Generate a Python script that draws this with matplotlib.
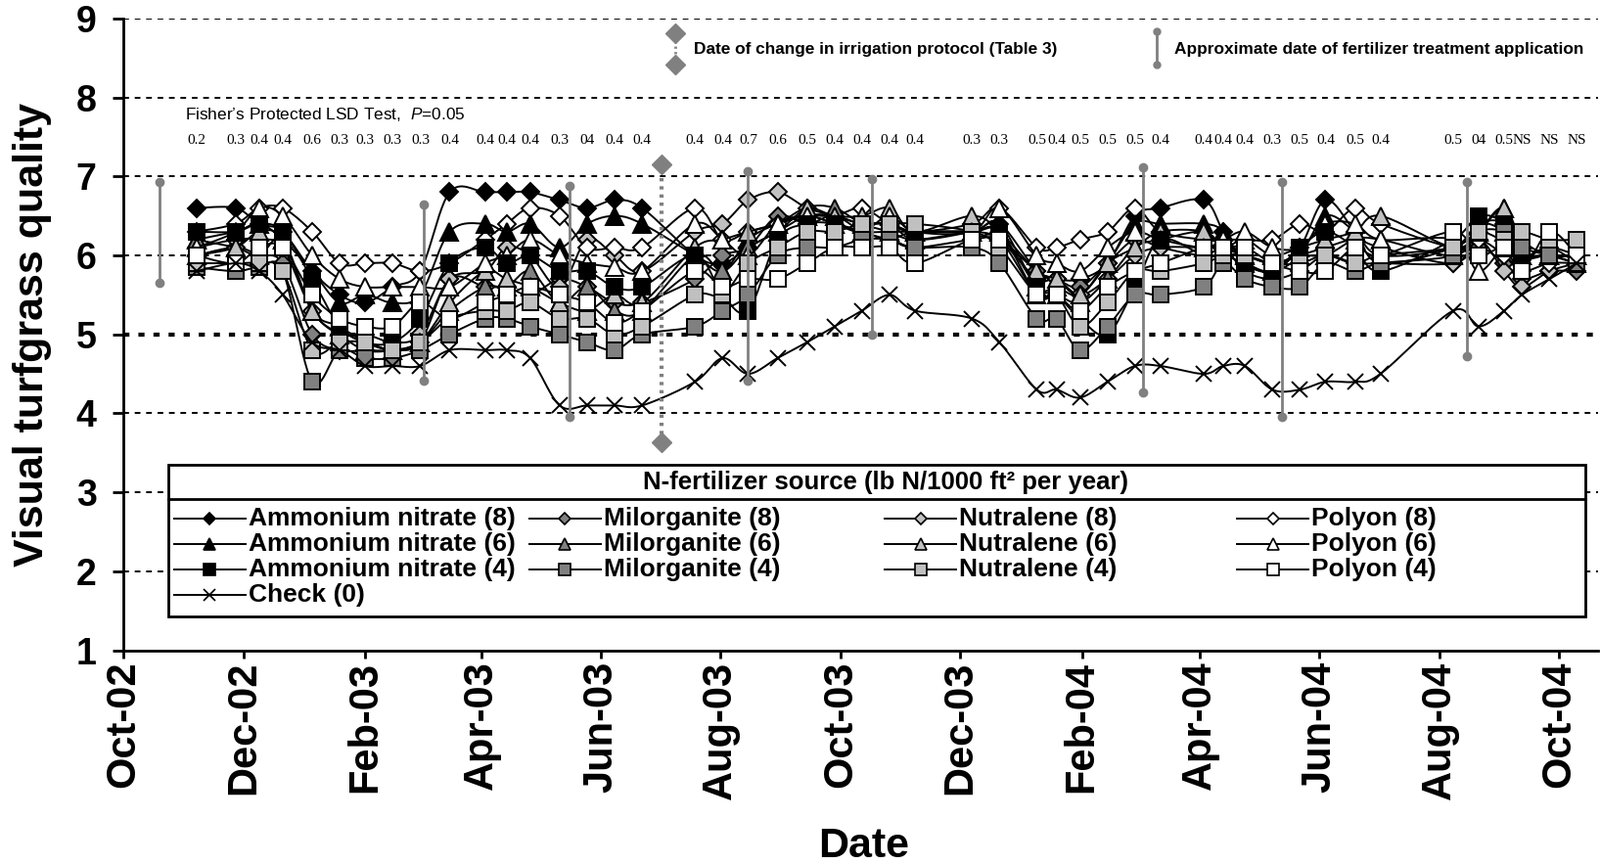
import matplotlib
matplotlib.use('Agg')
import matplotlib.pyplot as plt
import matplotlib.dates as mdates
import numpy as np
import pandas as pd
from matplotlib import font_manager
from matplotlib.patches import Rectangle

plt.rcParams['font.family'] = ['Liberation Sans', 'DejaVu Sans']
plt.rcParams['mathtext.fontset'] = 'custom'
plt.rcParams['mathtext.rm'] = 'Liberation Sans'
plt.rcParams['mathtext.it'] = 'Liberation Sans:italic'

installed = {f.name for f in font_manager.fontManager.ttflist}
HAS_NARROW = 'Liberation Sans Narrow' in installed
NARROW = 'Liberation Sans Narrow' if HAS_NARROW else 'Liberation Sans'
NSCALE = 1.0 if HAS_NARROW else 0.89

# sampling dates
sample_dates = pd.to_datetime([
    '2002-11-07', '2002-11-27', '2002-12-09', '2002-12-21', '2003-01-05',
    '2003-01-19', '2003-02-01', '2003-02-15', '2003-03-01', '2003-03-16',
    '2003-04-03', '2003-04-14', '2003-04-26', '2003-05-11', '2003-05-25',
    '2003-06-08', '2003-06-22', '2003-07-19', '2003-08-02', '2003-08-15',
    '2003-08-30', '2003-09-14', '2003-09-28', '2003-10-12', '2003-10-26',
    '2003-11-08', '2003-12-07', '2003-12-21', '2004-01-09', '2004-01-19',
    '2004-01-31', '2004-02-14', '2004-02-28', '2004-03-12', '2004-04-03',
    '2004-04-13', '2004-04-24', '2004-05-08', '2004-05-22', '2004-06-04',
    '2004-06-19', '2004-07-02', '2004-08-08', '2004-08-21', '2004-09-03',
    '2004-09-12', '2004-09-26', '2004-10-10'])

lsd = ['0.2', '0.3', '0.4', '0.4', '0.6', '0.3', '0.3', '0.3', '0.3', '0.4',
       '0.4', '0.4', '0.4', '0.3', '04', '0.4', '0.4', '0.4', '0.4', '0.7',
       '0.6', '0.5', '0.4', '0.4', '0.4', '0.4', '0.3', '0.3', '0.5', '0.4',
       '0.5', '0.5', '0.5', '0.4', '0.4', '0.4', '0.4', '0.3', '0.5', '0.4',
       '0.5', '0.4', '0.5', '04', '0.5', 'NS', 'NS', 'NS']

an8 = [6.6, 6.6, 6.4, 6.3, 5.8, 5.5, 5.4, 5.6, 5.8, 6.8,
       6.8, 6.8, 6.8, 6.7, 6.6, 6.7, 6.6, 6.0, 5.9, 6.1,
       6.3, 6.5, 6.5, 6.4, 6.4, 6.2, 6.3, 6.4, 5.8, 5.7,
       5.7, 5.9, 6.5, 6.6, 6.7, 6.3, 5.9, 5.8, 6.1, 6.7,
       6.3, 5.9, 6.1, 6.4, 6.4, 6.0, 6.1, 6.0]
an6 = [6.2, 6.3, 6.4, 6.2, 5.8, 5.4, 5.5, 5.4, 5.5, 6.3,
       6.4, 6.3, 6.4, 6.1, 6.4, 6.5, 6.4, 6.0, 5.8, 6.2,
       6.4, 6.5, 6.4, 6.3, 6.3, 6.3, 6.3, 6.4, 5.6, 5.6,
       5.5, 5.9, 6.4, 6.4, 6.4, 6.3, 5.9, 5.8, 6.0, 6.5,
       6.3, 6.0, 6.1, 6.4, 6.3, 6.0, 6.0, 6.0]
an4 = [6.3, 6.3, 6.4, 6.3, 5.7, 5.1, 4.9, 4.9, 5.2, 5.9,
       6.1, 5.9, 6.0, 5.8, 5.8, 5.6, 5.6, 6.0, 5.5, 5.3,
       6.2, 6.4, 6.4, 6.3, 6.2, 6.3, 6.3, 6.3, 5.6, 5.5,
       5.2, 5.0, 5.6, 6.2, 6.0, 6.0, 5.9, 5.8, 6.1, 6.3,
       6.1, 5.8, 6.2, 6.5, 6.4, 6.0, 6.1, 5.9]
mil8 = [6.0, 6.1, 6.0, 5.9, 5.0, 4.8, 4.8, 4.8, 4.9, 5.7,
        5.6, 5.6, 5.5, 5.7, 5.6, 5.4, 5.4, 5.7, 6.0, 6.1,
        6.5, 6.4, 6.5, 6.3, 6.2, 6.1, 6.2, 6.2, 5.8, 5.7,
        5.6, 5.9, 6.2, 6.1, 6.0, 6.1, 5.8, 5.7, 5.8, 6.0,
        5.9, 5.9, 5.9, 6.1, 5.9, 5.7, 5.8, 5.8]
mil6 = [6.2, 6.1, 6.0, 6.2, 5.3, 5.0, 4.8, 4.8, 4.9, 5.3,
        5.6, 5.6, 5.8, 5.4, 5.6, 5.3, 5.3, 6.0, 5.8, 6.1,
        6.3, 6.6, 6.6, 6.4, 6.3, 6.2, 6.3, 6.3, 5.5, 5.5,
        5.4, 5.7, 6.1, 6.2, 6.3, 6.1, 6.0, 5.9, 6.0, 6.0,
        6.2, 6.2, 6.0, 6.3, 6.6, 6.0, 6.0, 5.9]
mil4 = [5.85, 5.8, 5.85, 5.8, 4.4, 4.8, 4.7, 4.7, 4.8, 5.0,
        5.2, 5.2, 5.1, 5.0, 4.9, 4.8, 5.0, 5.1, 5.3, 5.5,
        6.0, 6.1, 6.1, 6.2, 6.2, 6.1, 6.1, 5.9, 5.2, 5.2,
        4.8, 5.1, 5.5, 5.5, 5.6, 5.9, 5.7, 5.6, 5.6, 5.9,
        5.8, 5.9, 6.0, 6.3, 6.3, 6.1, 6.0, 5.9]
nut8 = [6.1, 6.2, 6.2, 6.1, 5.3, 5.0, 5.0, 4.9, 5.0, 5.7,
        5.8, 6.1, 6.0, 5.6, 6.2, 6.0, 5.8, 6.3, 6.4, 6.7,
        6.8, 6.6, 6.5, 6.4, 6.4, 6.3, 6.3, 6.2, 5.7, 5.7,
        5.5, 5.7, 6.0, 6.1, 6.1, 6.1, 6.0, 5.9, 6.0, 6.1,
        6.2, 6.1, 5.9, 6.2, 5.8, 5.6, 5.8, 5.9]
nut6 = [6.0, 6.1, 6.3, 6.2, 5.3, 5.1, 4.9, 4.8, 4.9, 5.4,
        5.8, 5.7, 5.6, 5.4, 5.3, 5.5, 5.4, 6.1, 6.2, 6.3,
        6.4, 6.6, 6.5, 6.5, 6.6, 6.3, 6.5, 6.3, 5.8, 5.7,
        5.5, 5.9, 6.1, 6.3, 6.3, 6.1, 6.2, 6.0, 6.1, 6.2,
        6.3, 6.5, 6.1, 6.3, 6.6, 6.2, 6.0, 6.0]
nut4 = [5.9, 5.9, 5.9, 5.8, 4.8, 4.9, 4.9, 4.8, 4.9, 5.2,
        5.3, 5.3, 5.4, 5.2, 5.2, 5.0, 5.1, 5.5, 5.5, 5.9,
        6.1, 6.3, 6.3, 6.4, 6.4, 6.4, 6.3, 6.1, 5.5, 5.5,
        5.1, 5.4, 5.8, 5.8, 5.9, 6.0, 6.0, 5.9, 5.9, 6.0,
        5.9, 6.0, 6.1, 6.3, 6.2, 6.3, 6.2, 6.2]
pol8 = [6.3, 6.4, 6.6, 6.6, 6.3, 5.9, 5.9, 5.9, 5.8, 5.9,
        6.2, 6.4, 6.6, 6.5, 6.1, 6.1, 6.1, 6.6, 6.2, 6.3,
        6.4, 6.5, 6.5, 6.6, 6.4, 6.3, 6.4, 6.6, 6.1, 6.1,
        6.2, 6.3, 6.6, 6.3, 6.2, 6.2, 6.2, 6.2, 6.4, 6.3,
        6.6, 6.4, 6.1, 6.2, 6.0, 5.8, 5.9, 5.9]
pol6 = [6.1, 6.3, 6.6, 6.5, 6.0, 5.7, 5.6, 5.6, 5.6, 5.6,
        5.9, 6.0, 6.2, 6.0, 5.9, 5.85, 5.8, 6.4, 6.2, 6.0,
        6.4, 6.5, 6.4, 6.3, 6.5, 6.3, 6.3, 6.6, 6.0, 5.9,
        5.8, 6.1, 6.3, 6.2, 6.1, 6.2, 6.3, 6.1, 6.1, 6.4,
        6.4, 6.2, 6.2, 5.8, 6.1, 6.0, 6.0, 6.0]
pol4 = [6.0, 5.9, 6.1, 6.1, 5.5, 5.2, 5.1, 5.1, 5.4, 5.2,
        5.4, 5.5, 5.6, 5.5, 5.4, 5.15, 5.3, 5.8, 5.6, 5.7,
        5.7, 5.9, 6.1, 6.1, 6.1, 5.9, 6.2, 6.2, 5.5, 5.5,
        5.3, 5.6, 5.8, 5.9, 6.1, 6.1, 6.1, 5.9, 5.8, 5.8,
        6.1, 6.0, 6.3, 6.0, 6.1, 5.8, 6.3, 6.0]
check = [5.8, 5.9, 5.8, 5.5, 4.9, 4.8, 4.6, 4.6, 4.6, 4.8,
         4.8, 4.8, 4.7, 4.1, 4.1, 4.1, 4.1, 4.4, 4.7, 4.5,
         4.7, 4.9, 5.1, 5.3, 5.5, 5.3, 5.2, 4.9, 4.3, 4.3,
         4.2, 4.4, 4.6, 4.6, 4.5, 4.6, 4.6, 4.3, 4.3, 4.4,
         4.4, 4.5, 5.3, 5.1, 5.3, 5.5, 5.7, 5.9]

# fertilizer application and irrigation change markers
fert_dates = pd.to_datetime(['2002-10-19', '2003-03-03', '2003-05-16', '2003-08-15',
                             '2003-10-17', '2004-03-03', '2004-05-13', '2004-08-15'])
fert_low = [5.65, 4.42, 3.96, 4.42, 5.0, 4.27, 3.96, 4.73]
fert_high = [6.93, 6.64, 6.88, 7.07, 6.97, 7.12, 6.93, 6.93]
irrig_date = pd.Timestamp('2003-07-02')
irrig_low, irrig_high = 3.63, 7.15

GRAY = '#808080'
LGRAY = '#c0c0c0'
series = [
    ('Ammonium nitrate (8)', an8, 'D', 'black'),
    ('Ammonium nitrate (6)', an6, '^', 'black'),
    ('Ammonium nitrate (4)', an4, 's', 'black'),
    ('Check (0)', check, 'x', 'black'),
    ('Milorganite (8)', mil8, 'D', GRAY),
    ('Milorganite (6)', mil6, '^', GRAY),
    ('Milorganite (4)', mil4, 's', GRAY),
    ('Nutralene (8)', nut8, 'D', LGRAY),
    ('Nutralene (6)', nut6, '^', LGRAY),
    ('Nutralene (4)', nut4, 's', LGRAY),
    ('Polyon (8)', pol8, 'D', 'white'),
    ('Polyon (6)', pol6, '^', 'white'),
    ('Polyon (4)', pol4, 's', 'white'),
]
msize = {'D': 9.5, '^': 13, 's': 12, 'x': 11}
lsize = {'D': 6.5, '^': 8.5, 's': 8, 'x': 9}


def smooth(x, y, n=12):
    # smoothed line like the spreadsheet's, cubic bezier through every point
    x = np.asarray(x, float)
    y = np.asarray(y, float)
    px = np.concatenate([[x[0]], x, [x[-1]]])
    py = np.concatenate([[y[0]], y, [y[-1]]])
    t = np.linspace(0, 1, n, endpoint=False)[:, None]
    xs, ys = [], []
    for i in range(1, len(px) - 2):
        for p, out in ((px, xs), (py, ys)):
            b0, b3 = p[i], p[i + 1]
            b1 = b0 + (p[i + 1] - p[i - 1]) / 6
            b2 = b3 - (p[i + 2] - p[i]) / 6
            seg = ((1 - t) ** 3 * b0 + 3 * (1 - t) ** 2 * t * b1
                   + 3 * (1 - t) * t ** 2 * b2 + t ** 3 * b3)
            out.append(seg.ravel())
    xs.append([x[-1]])
    ys.append([y[-1]])
    return np.concatenate(xs), np.concatenate(ys)


fig = plt.figure(figsize=(16.35, 8.83), dpi=100)
ax = fig.add_axes([0.0773, 0.2473, 0.9217, 0.7314])

xnum = mdates.date2num(sample_dates)
draw_order = [0, 4, 7, 10, 1, 5, 8, 11, 2, 6, 9, 12, 3]
for i in draw_order:
    name, vals, m, fc = series[i]
    sx, sy = smooth(xnum, vals)
    ax.plot(sx, sy, color='black', lw=1.4, zorder=3)
    ax.plot(xnum, vals, ls='none', marker=m, ms=msize[m],
            mfc=fc, mec='black', mew=1.4, zorder=3)

for d, lo, hi in zip(fert_dates, fert_low, fert_high):
    ax.plot([d, d], [lo, hi], color=GRAY, lw=2, marker='o', ms=6, zorder=4)
ax.plot([irrig_date, irrig_date], [irrig_low, irrig_high], color=GRAY, lw=3,
        ls=(0, (0.8, 1.2)), zorder=4)
ax.plot([irrig_date, irrig_date], [irrig_low, irrig_high], ls='none', marker='D',
        ms=10, mfc=GRAY, mec=GRAY, zorder=4)

# axes
ax.set_xlim(pd.Timestamp('2002-10-01'), pd.Timestamp('2004-10-21'))
ax.set_ylim(1, 9)
ax.set_xticks(pd.date_range('2002-10-01', '2004-10-01', freq='2MS'))
ax.xaxis.set_major_formatter(mdates.DateFormatter('%b-%y'))
ax.set_yticks(range(1, 10))
for lbl in ax.get_xticklabels():
    lbl.set_rotation(90)
ax.tick_params(axis='x', labelsize=30, direction='out', length=6, width=2, pad=2)
ax.tick_params(axis='y', labelsize=27, direction='out', length=8, width=2, pad=12)
for lbl in ax.get_xticklabels() + ax.get_yticklabels():
    lbl.set_fontweight('bold')
for s in ['top', 'right']:
    ax.spines[s].set_visible(False)
for s in ['left', 'bottom']:
    ax.spines[s].set_linewidth(2)
for y in range(2, 10):
    if y == 5:
        ax.axhline(y, color='black', lw=3, ls=(0, (1.5, 2.2)), zorder=1)
    else:
        ax.axhline(y, color='black', lw=1.4, ls=(0, (3, 3)), zorder=1)

ax.set_ylabel('Visual turfgrass quality', fontsize=31, fontweight='bold')
ax.yaxis.set_label_coords(-0.049, 0.5)
fig.text(0.54, 0.02, 'Date', fontsize=31, fontweight='bold', ha='center', va='center')

# LSD row
ax.text(0.0416, 0.8475, 'Fisher\u2019s Protected LSD Test,  $P$=0.05', transform=ax.transAxes,
        family=[NARROW], fontsize=14 * NSCALE, va='center', ha='left')
for d, s in zip(sample_dates, lsd):
    ax.text(d, 7.46, s, ha='center', va='center', fontsize=11, family=['Liberation Serif'])

# key for the vertical markers
ax.plot([0.374, 0.374], [0.9275, 0.976], transform=ax.transAxes, color=GRAY, lw=2,
        ls=(0, (0.8, 1.2)), clip_on=False)
ax.plot([0.374, 0.374], [0.9275, 0.976], transform=ax.transAxes, ls='none', marker='D',
        ms=10, mfc=GRAY, mec=GRAY, clip_on=False)
ax.text(0.3864, 0.951, 'Date of change in irrigation protocol (Table 3)', transform=ax.transAxes,
        family=[NARROW], fontweight='bold', fontsize=14 * NSCALE, va='center')
ax.plot([0.7008, 0.7008], [0.9275, 0.98], transform=ax.transAxes, color=GRAY, lw=2,
        marker='o', ms=5, clip_on=False)
ax.text(0.7126, 0.951, 'Approximate date of fertilizer treatment application',
        transform=ax.transAxes, family=[NARROW], fontweight='bold', fontsize=14 * NSCALE,
        va='center')

# legend box
ax.add_patch(Rectangle((0.0305, 0.0534), 0.9605, 0.2395, transform=ax.transAxes,
                       fc='white', ec='black', lw=2, zorder=6))
ax.plot([0.0305, 0.991], [0.2395, 0.2395], transform=ax.transAxes, color='black', lw=2,
        zorder=7)
ax.text(0.517, 0.2654, 'N-fertilizer source (lb N/1000 ft\u00b2 per year)', transform=ax.transAxes,
        fontsize=18.5, fontweight='bold', ha='center', va='center', zorder=7)
col_x = [0.034, 0.275, 0.516, 0.755]
row_y = [0.2088, 0.1683, 0.1279, 0.0874]
slots = [(0, 0), (0, 1), (0, 2), (0, 3), (1, 0), (1, 1), (1, 2),
         (2, 0), (2, 1), (2, 2), (3, 0), (3, 1), (3, 2)]
for (name, vals, m, fc), (c, r) in zip(series, slots):
    x0, y0 = col_x[c], row_y[r]
    ax.plot([x0, x0 + 0.0485], [y0, y0], transform=ax.transAxes, color='black', lw=1.4,
            zorder=7)
    ax.plot([x0 + 0.02425], [y0], transform=ax.transAxes, marker=m, ms=lsize[m], mfc=fc,
            mec='black', mew=1.2, zorder=8)
    ax.text(x0 + 0.0505, y0, name, transform=ax.transAxes, fontsize=19, fontweight='bold',
            va='center', ha='left', zorder=8)

fig.savefig('out.png', dpi=100)
